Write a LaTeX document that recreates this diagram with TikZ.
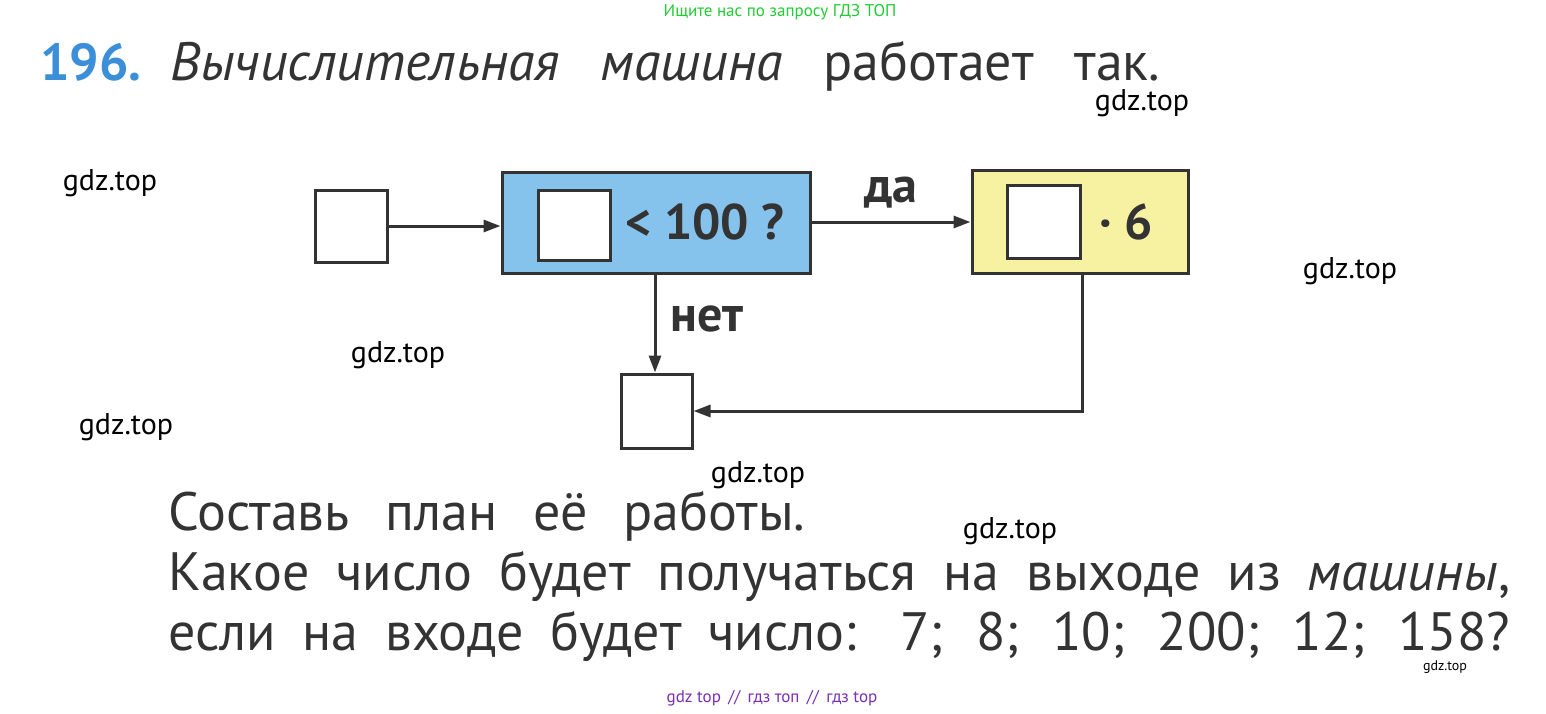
\documentclass[tikz,border=0pt]{standalone}
\usepackage{fontspec}
\setmainfont{PT Sans}
\usetikzlibrary{arrows.meta}
\definecolor{boxblue}{HTML}{86C3EC}
\definecolor{boxyellow}{HTML}{F6F2A2}
\definecolor{ink}{HTML}{333333}
\definecolor{numblue}{HTML}{3A8FD8}
\definecolor{wmgreen}{HTML}{22CC33}
\definecolor{wmpurple}{HTML}{7A2FB0}
\tikzset{
  frame/.style={draw=ink,line width=3pt},
  sq/.style={frame,fill=white,minimum width=72pt,minimum height=72pt,inner sep=0pt},
  conn/.style={draw=ink,line width=3pt,-{Triangle[length=17pt,width=12pt]}},
  wm/.style={font=\fontsize{30}{32}\selectfont,text=black},
  body/.style={anchor=base west,inner sep=0pt,text=ink,font=\fontsize{54}{58}\selectfont},
  lbl/.style={font=\bfseries\fontsize{50}{52}\selectfont,text=ink,inner sep=0pt}
}
\begin{document}
\begin{tikzpicture}[x=1pt,y=-1pt]
\useasboundingbox[fill=white] (0,0) rectangle (1546,713);
\node[text=wmgreen,font=\fontsize{17}{19}\selectfont] (top) at (780,12) {Ищите нас по запросу ГДЗ ТОП};
\node[anchor=base west,inner sep=0pt,text=numblue,font=\bfseries\fontsize{52}{54}\selectfont] (num) at (40,80) {196.};
\node[body] (title) at (170,80) {\makebox[990pt][s]{\itshape Вычислительная машина \upshape работает так.}};
% diagram
\node[sq,minimum width=72pt] (in) at (351,226) {};
\node[frame,fill=boxblue,minimum width=308pt,minimum height=101pt,inner sep=0pt] (cond) at (656,222.5) {};
\node[sq,minimum width=72pt,minimum height=70pt] (cin) at (574,225) {};
\node[lbl,anchor=west] (lt) at (625,222) {< 100 ?};
\node[frame,fill=boxyellow,minimum width=216pt,minimum height=103pt,inner sep=0pt] (mul) at (1080,221.5) {};
\node[sq,minimum width=73pt,minimum height=73pt] (min) at (1043.5,221.5) {};
\node[lbl] (six) at (1126,222) {· 6};
\node[sq,minimum width=71pt,minimum height=74pt] (out) at (656.5,411) {};
\draw[conn] (in.east) -- (in.east -| cond.west);
\draw[conn] (cond.east |- 0,222) -- node[lbl,above=12pt] (da) {да} (mul.west |- 0,222);
\draw[conn] (cond.south -| 655,0) -- node[lbl,right=14pt,pos=0.45] (net) {нет} (out.north -| 655,0);
\coordinate (corner) at (1082,411);
\draw[conn] (mul.south -| corner) -- (corner) -- (out.east);
% watermarks
\node[wm] (w1) at (1142,103) {gdz.top};
\node[wm] (w2) at (110,183) {gdz.top};
\node[wm] (w3) at (1350,271) {gdz.top};
\node[wm] (w4) at (398,355) {gdz.top};
\node[wm] (w5) at (126,427) {gdz.top};
\node[wm] (w6) at (758,475) {gdz.top};
\node[wm] (w7) at (1010,531) {gdz.top};
\node[font=\fontsize{14}{16}\selectfont] (w8) at (1445,667) {gdz.top};
% text
\node[body] (l1) at (168,530) {\makebox[637pt][s]{Составь план её работы.}};
\node[body] (l2) at (168,590) {\makebox[1342pt][s]{Какое число будет получаться на выходе из \itshape машины\upshape,}};
\node[body] (l3) at (168,650) {\makebox[1342pt][s]{если на входе будет число: 7; 8; 10; 200; 12; 158?}};
\node[text=wmpurple,font=\fontsize{17}{19}\selectfont] (bot) at (772,698) {gdz top \,//\, гдз топ \,//\, гдз top};
\end{tikzpicture}
\end{document}
